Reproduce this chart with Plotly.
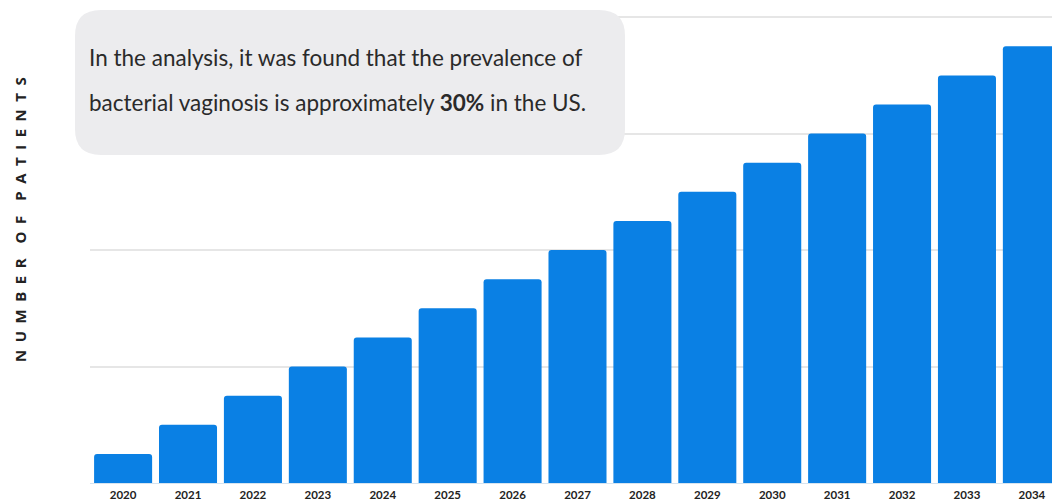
import plotly.graph_objects as go

years = ["2020", "2021", "2022", "2023", "2024", "2025", "2026", "2027",
         "2028", "2029", "2030", "2031", "2032", "2033", "2034"]
patients = [1, 2, 3, 4, 5, 6, 7, 8, 9, 10, 11, 12, 13, 14, 15]
note_line1 = "In the analysis, it was found that the prevalence of"
note_line2 = "bacterial vaginosis is approximately <b>30%</b> in the US."
y_title = "NUMBER OF PATIENTS"

W, H = 1052, 500
ML, MR, MT, MB = 90, 0, 16, 17
PW, PH = W - ML - MR, H - MT - MB


def px(x):
    return (x - ML) / PW


def py(y):
    return (H - MB - y) / PH


def rounded_box(x0, y0, x1, y1, r):
    pts = []
    pts.append(f"M {px(x0 + r)},{py(y0)}")
    pts.append(f"L {px(x1 - r)},{py(y0)}")
    pts.append(f"Q {px(x1)},{py(y0)} {px(x1)},{py(y0 + r)}")
    pts.append(f"L {px(x1)},{py(y1 - r)}")
    pts.append(f"Q {px(x1)},{py(y1)} {px(x1 - r)},{py(y1)}")
    pts.append(f"L {px(x0 + r)},{py(y1)}")
    pts.append(f"Q {px(x0)},{py(y1)} {px(x0)},{py(y1 - r)}")
    pts.append(f"L {px(x0)},{py(y0 + r)}")
    pts.append(f"Q {px(x0)},{py(y0)} {px(x0 + r)},{py(y0)}")
    pts.append("Z")
    return " ".join(pts)


def spaced(s):
    words = s.split(" ")
    return "\u2003".join("\u2002".join(w) for w in words)


xs = list(range(len(years)))

fig = go.Figure()
fig.add_trace(go.Bar(
    x=xs, y=patients,
    marker=dict(color="#0a80e4", line=dict(width=0)),
    hoverinfo="skip",
))

fig.update_layout(
    width=W, height=H,
    margin=dict(l=ML, r=MR, t=MT, b=MB),
    paper_bgcolor="white", plot_bgcolor="white",
    bargap=0.106, barcornerradius=3,
    showlegend=False,
    xaxis=dict(
        range=[-0.51, 14.31], tickmode="array", tickvals=xs, ticktext=years,
        showgrid=False, zeroline=False, showline=True, linecolor="#d6e4f0", linewidth=1,
        ticks="", ticklabelstandoff=1,
        tickfont=dict(family="Lato", size=11.5, color="#222222", weight="bold"),
    ),
    yaxis=dict(
        range=[0, 16.04], tickmode="array", tickvals=[4, 8, 12, 16],
        showticklabels=False, showgrid=True,
        gridcolor="#e6e6e6", gridwidth=2, zeroline=False, ticks="",
    ),
    shapes=[dict(
        type="path", xref="paper", yref="paper",
        path=rounded_box(75, 10, 625, 155, 26),
        fillcolor="#ececee", line=dict(width=0), layer="above",
    )],
    annotations=[
        dict(
            xref="paper", yref="paper", x=px(87), y=py(57), xanchor="left", yanchor="middle",
            align="left", showarrow=False, text=note_line1,
            font=dict(family="Lato", size=22.5, color="#2a2a2a"),
        ),
        dict(
            xref="paper", yref="paper", x=px(87), y=py(103), xanchor="left", yanchor="middle",
            align="left", showarrow=False, text=note_line2,
            font=dict(family="Lato", size=22.5, color="#2a2a2a"),
        ),
        dict(
            xref="paper", yref="paper", x=px(20), y=py(220), xanchor="center", yanchor="middle",
            textangle=-90, showarrow=False, text=spaced(y_title),
            font=dict(family="Open Sans", size=15, color="#222222", weight="bold"),
        ),
    ],
)

fig.write_html("out.html")
